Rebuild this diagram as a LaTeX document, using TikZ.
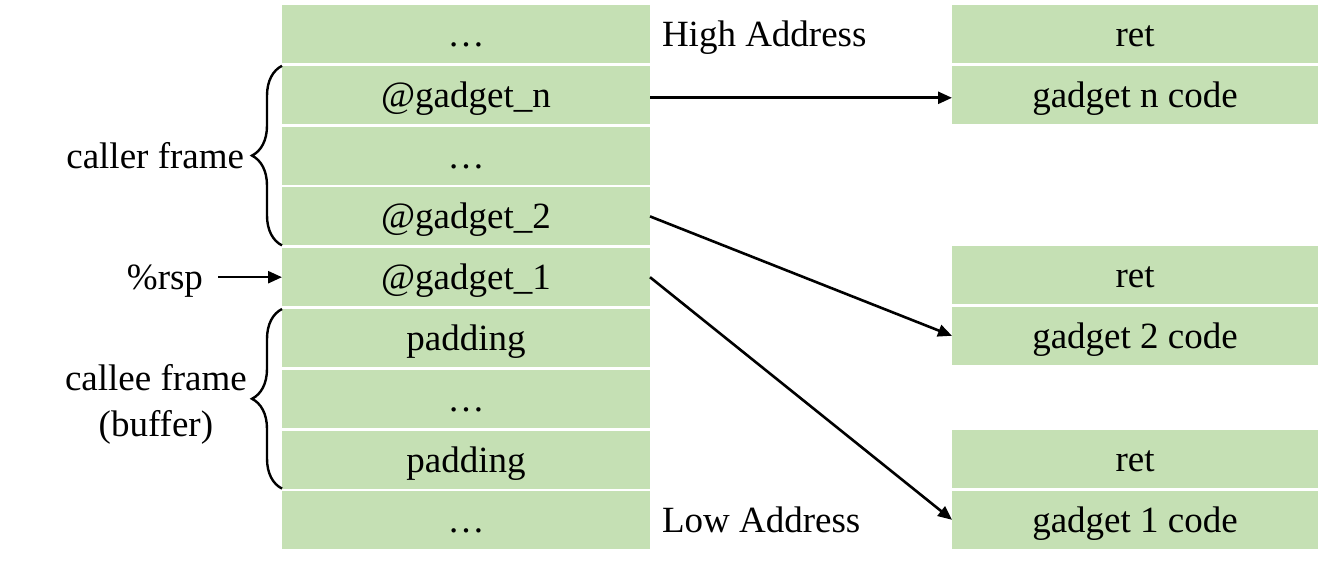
\documentclass[tikz,border=0pt]{standalone}
\usepackage{fontspec}
\setmainfont{Liberation Serif}
\usepackage{tikz}
\usetikzlibrary{arrows.meta, positioning, decorations.pathreplacing}
\definecolor{cellgreen}{RGB}{197,224,180}

\tikzset{
    txt/.style={inner sep=0pt, outer sep=0pt, text height=16.5pt, text depth=4pt},
    cell/.style={txt, fill=cellgreen, minimum width=184pt, minimum height=29pt},
    codecell/.style={cell, minimum width=183pt},
    ptr/.style={-{Triangle[length=7pt,width=6pt]}, line width=1.3pt},
    stackbrace/.style={decorate, decoration={brace, amplitude=15pt}, line width=1.2pt}
}

\begin{document}
\begin{tikzpicture}[font=\fontsize{18.5}{23}\selectfont, node distance=1.4pt]
    \useasboundingbox (0,0) rectangle (661pt,-283pt);

    % stack, high address on top
    \node[cell] (s1) at (233pt,-17pt) {…};
    \node[cell, below=of s1] (s2) {@gadget\_n};
    \node[cell, below=of s2] (s3) {…};
    \node[cell, below=of s3] (s4) {@gadget\_2};
    \node[cell, below=of s4] (s5) {@gadget\_1};
    \node[cell, below=of s5] (s6) {padding};
    \node[cell, below=of s6] (s7) {…};
    \node[cell, below=of s7] (s8) {padding};
    \node[cell, below=of s8] (s9) {…};

    \node[txt, anchor=west] (high) at ([xshift=6pt]s1.east) {High Address};
    \node[txt, anchor=west] (low) at ([xshift=6pt]s9.east) {Low Address};

    % gadgets
    \node[codecell] (retn) at (567.5pt,-17pt) {ret};
    \node[codecell, below=of retn] (gn) {gadget n code};
    \node[codecell] (ret2) at (567.5pt,-137.5pt) {ret};
    \node[codecell, below=of ret2] (g2) {gadget 2 code};
    \node[codecell] (ret1) at (567.5pt,-229.5pt) {ret};
    \node[codecell, below=of ret1] (g1) {gadget 1 code};

    % frames
    \draw[stackbrace] (s4.south west) -- node[txt, left=19pt] (caller) {caller frame} (s2.north west);
    \draw[stackbrace] (s8.south west) -- node[inner sep=0pt, left=17pt, yshift=-3pt, align=center] (callee) {callee frame\\(buffer)} (s6.north west);

    \node[txt, left=39.5pt of s5] (rsp) {\%rsp};
    \draw[ptr, shorten <=7.5pt] (rsp) -- (s5);

    \draw[ptr] ([yshift=-1.5pt]s2.east) -- ([yshift=-1.5pt]gn.west);
    \draw[ptr] (s4.east) -- (g2.west);
    \draw[ptr] (s5.east) -- (g1.west);
\end{tikzpicture}
\end{document}
